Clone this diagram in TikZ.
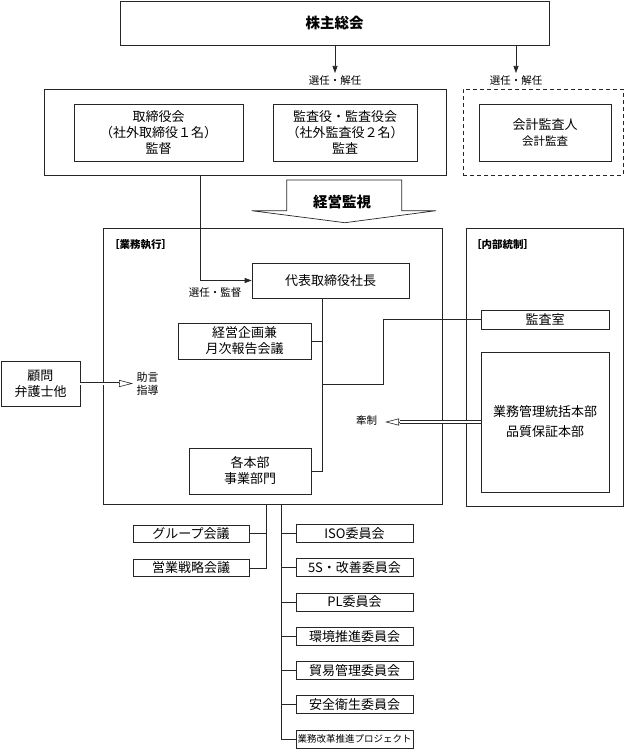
\documentclass[tikz,border=0pt]{standalone}
\usepackage{fontspec}
\setmainfont{Noto Sans CJK JP}
\usetikzlibrary{arrows.meta}

\tikzset{
  box/.style={draw=black!85, line width=0.7pt, inner sep=0pt, align=center,
    font=\fontsize{13}{16}\selectfont},
  lbl/.style={inner sep=0pt, align=center, font=\fontsize{10.5}{13}\selectfont},
  head/.style={inner sep=0pt, font=\fontsize{14.5}{16}\selectfont\bfseries},
  conn/.style={draw=black!85, line width=0.7pt},
  arr/.style={conn, -{Triangle[length=7pt,width=5pt]}},
  dbl/.style={draw=black!85, double, double distance=2pt, line width=0.6pt},
  openarr/.style={draw=black!85, line width=0.6pt, -{Triangle[open,length=14pt,width=7pt]}}
}

\begin{document}
\begin{tikzpicture}[x=1pt,y=-1pt]
        \useasboundingbox (0,0) rectangle (625,749);

        \node[box, head, minimum width=429pt, minimum height=44pt] (soukai) at (334.5,23) {株主総会};

        \node[box, minimum width=402pt, minimum height=86pt] (board) at (245,132) {};
        \node[box, minimum width=169pt, minimum height=57pt] (torishimari) at (158.5,132.5) {取締役会\\（社外取締役１名）\\監督};
        \node[box, minimum width=144pt, minimum height=57pt] (kansayaku) at (345,132.5) {監査役・監査役会\\（社外監査役２名）\\監査};
        \node[box, dashed, dash pattern=on 4pt off 3pt, minimum width=160pt, minimum height=86pt] (kaikeiwaku) at (543,132) {};
        \node[box, minimum width=132pt, minimum height=57pt] (kaikei) at (545,132.5) {会計監査人\\{\fontsize{11.5}{14}\selectfont 会計監査}};

        \coordinate (e1) at (335,73);
        \coordinate (e2) at (516,73);
        \node[lbl] (sennin1) at (335,81) {選任・解任};
        \node[lbl] (sennin2) at (516,81) {選任・解任};

        \draw [arr] (soukai.south -| e1) -- (e1);
        \draw [arr] (soukai.south -| e2) -- (e2);

        \draw [conn, fill=white] (286.7,180) -- (401.7,180) -- (401.7,210.7) -- (436,210.7) -- (345,222.7) -- (251.7,210.7) -- (286.7,210.7) -- cycle;
        \node[head] (kanshi) at (342,202) {経営監視};

        \node[box, minimum width=339pt, minimum height=276pt] (gyomu) at (272.5,366) {};
        \node[box, minimum width=157pt, minimum height=278pt] (naibu) at (544.5,367) {};
        \node[head, font=\fontsize{10.5}{12}\selectfont\bfseries, anchor=west] (gyomulbl) at (109,245) {［業務執行］};
        \node[head, font=\fontsize{10.5}{12}\selectfont\bfseries, anchor=west] (naibulbl) at (471,245) {［内部統制］};

        \node[box, minimum width=157pt, minimum height=35pt] (daihyo) at (330.5,280.5) {代表取締役社長};
        \node[box, minimum width=133pt, minimum height=36pt] (kikaku) at (244.5,341) {経営企画兼\\月次報告会議};
        \node[box, minimum width=122pt, minimum height=46pt] (honbu) at (250,471) {各本部\\事業部門};
        \node[box, minimum width=128pt, minimum height=19pt] (kansashitsu) at (545,319.5) {監査室};
        \node[box, minimum width=128pt, minimum height=140pt] (kanri) at (545,422) {業務管理統括本部\\[4pt]品質保証本部};
        \node[box, minimum width=79pt, minimum height=45pt] (komon) at (40.5,383.5) {顧問\\弁護士他};

        \coordinate (c1) at (200,280.5);
        \draw [arr] (board.south -| c1) |- (daihyo.west);
        \node[lbl] (sennin3) at (215,292.7) {選任・監督};

        \coordinate (t1) at (322,471);
        \coordinate (t2) at (322,384);
        \coordinate (t3) at (383,384);
        \draw [conn] (daihyo.south -| t1) -- (t1) -- (honbu.east);
        \draw [conn] (kikaku.east) -- (kikaku.east -| t1);
        \draw [conn] (t2) -- (t3) |- (kansashitsu.west);

        \coordinate (k1) at (400,422);
        \coordinate (k2) at (385,422);
        \draw [dbl] (kanri.west) -- (k1);
        \draw [openarr] (k1) -- (k2);
        \node[lbl] (kensei) at (366.5,421) {牽制};

        \coordinate (j1) at (119,383.5);
        \coordinate (j2) at (133,383.5);
        \draw [dbl] (komon.east) -- (j1);
        \draw [openarr] (j1) -- (j2);
        \node[lbl, font=\fontsize{11}{13}\selectfont] (jogen) at (147.5,383.5) {助言\\指導};

        \node[box, minimum width=116pt, minimum height=17pt] (group) at (191,533.5) {グループ会議};
        \node[box, minimum width=116pt, minimum height=17pt] (eigyo) at (191,568) {営業戦略会議};

        \node[box, minimum width=117pt, minimum height=18pt] (iso) at (354.5,533.5) {ISO委員会};
        \node[box, minimum width=117pt, minimum height=18pt] (kaizen) at (354.5,567.75) {5S・改善委員会};
        \node[box, minimum width=117pt, minimum height=18pt] (pl) at (354.5,602) {PL委員会};
        \node[box, minimum width=117pt, minimum height=18pt] (kankyo) at (354.5,636.25) {環境推進委員会};
        \node[box, minimum width=117pt, minimum height=18pt] (boeki) at (354.5,670.5) {貿易管理委員会};
        \node[box, minimum width=117pt, minimum height=18pt] (anzen) at (354.5,704.75) {安全衛生委員会};
        \node[box, minimum width=117pt, minimum height=18pt, font=\fontsize{9.5}{11}\selectfont] (kaikaku) at (354.5,739) {業務改革推進プロジェクト};

        \coordinate (b1) at (266,568);
        \coordinate (b2) at (281,739);
        \draw [conn] (gyomu.south -| b1) -- (b1) -- (eigyo.east);
        \draw [conn] (group.east) -- (group.east -| b1);

        \draw [conn] (gyomu.south -| b2) -- (b2) -- (kaikaku.west);
        \draw [conn] (iso.west) -- (iso.west -| b2);
        \draw [conn] (kaizen.west) -- (kaizen.west -| b2);
        \draw [conn] (pl.west) -- (pl.west -| b2);
        \draw [conn] (kankyo.west) -- (kankyo.west -| b2);
        \draw [conn] (boeki.west) -- (boeki.west -| b2);
        \draw [conn] (anzen.west) -- (anzen.west -| b2);

    \end{tikzpicture}
\end{document}
